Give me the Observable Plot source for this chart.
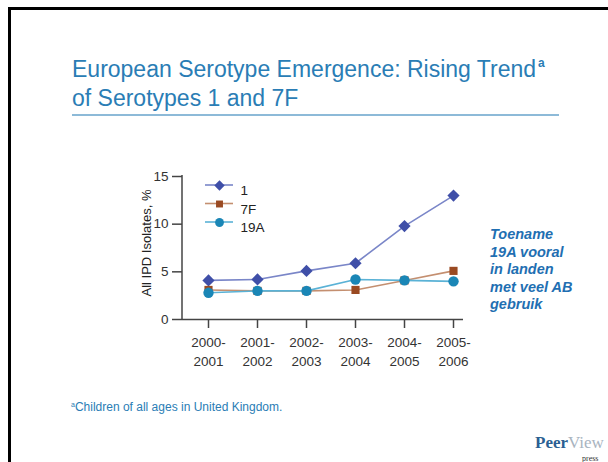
<!DOCTYPE html>
<html>
<head>
<meta charset="utf-8">
<script src="https://cdn.jsdelivr.net/npm/d3@7"></script>
<script src="https://cdn.jsdelivr.net/npm/@observablehq/plot@0.6"></script>
<style>
  html, body { margin: 0; padding: 0; background: #fff; }
  #page { position: relative; width: 608px; height: 462px; overflow: hidden; background: #fff; font-family: "Liberation Sans", Arial, sans-serif; }
  .abs { position: absolute; }
  #title { left: 72px; top: 49px; font-size: 23px; line-height: 29px; color: #2a7db5; white-space: nowrap; }
  #title sup { font-size: 12px; vertical-align: 10px; font-weight: bold; margin-left: 2px; }
  #rule { left: 72px; top: 114px; width: 487px; height: 2px; background: #8dbad8; }
  #note { left: 490px; top: 226px; font-size: 14.5px; line-height: 17.5px; font-weight: bold; font-style: italic; color: #1f6fb2; }
  #foot { left: 71px; top: 400px; font-size: 12px; color: #2a7db5; white-space: nowrap; }
  #foot sup { font-size: 7px; vertical-align: 4px; }
  #logo { left: 535px; top: 434px; font-family: "Liberation Serif", "DejaVu Serif", serif; font-size: 17px; line-height: 17px; white-space: nowrap; }
  #logo .p { color: #2b5f93; font-weight: bold; }
  #logo .v { color: #a9b4bf; }
  #press { left: 582px; top: 455px; font-family: "Liberation Serif", serif; font-size: 8px; line-height: 8px; color: #333; }
  #btop { left: 8px; top: 7px; width: 600px; height: 3px; background: #000; }
  #bleft { left: 8px; top: 7px; width: 3px; height: 455px; background: #000; }
  #chart { left: 0; top: 160px; }
</style>
</head>
<body>
<div id="page">
  <div id="btop" class="abs"></div>
  <div id="bleft" class="abs"></div>
  <div id="title" class="abs">European Serotype Emergence: Rising Trend<sup>a</sup><br>of Serotypes 1 and 7F</div>
  <div id="rule" class="abs"></div>
  <div id="chart" class="abs"></div>
  <div id="note" class="abs">Toename<br>19A vooral<br>in landen<br>met veel AB<br>gebruik</div>
  <div id="foot" class="abs"><sup>a</sup>Children of all ages in United Kingdom.</div>
  <div id="logo" class="abs"><span class="p">Peer</span><span class="v">View</span></div>
  <div id="press" class="abs">press</div>
</div>
<script>
const seasons = ["2000-2001", "2001-2002", "2002-2003", "2003-2004", "2004-2005", "2005-2006"];
const serotype1 = [4.1, 4.2, 5.1, 5.9, 9.8, 13.0];
const serotype7F = [3.1, 3.0, 3.0, 3.1, 4.1, 5.1];
const serotype19A = [2.8, 3.0, 3.0, 4.2, 4.1, 4.0];
const seriesNames = ["1", "7F", "19A"];
const yTicks = [0, 5, 10, 15];
const yLabel = "All IPD Isolates, %";

const seriesValues = [serotype1, serotype7F, serotype19A];
const symbols = ["diamond2", "square", "circle"];
const markerColors = ["#3f4fa8", "#9a4a22", "#1a86b6"];
const lineColors = ["#7a86c8", "#c48f70", "#5ab2d6"];
const markerR = [5.5, 4.6, 5.2];

const rows = [];
seriesNames.forEach((name, i) => {
  seasons.forEach((s, j) => rows.push({series: name, season: s, value: seriesValues[i][j]}));
});

const W = 608, H = 220;
const mL = 182, mR = 145, mT = 16, mB = 61;

const marks = [];
// y axis line
marks.push((index, scales, values, dims) => {
  const g = d3.create("svg:g").attr("stroke", "#444").attr("stroke-width", 1.5);
  g.append("line").attr("x1", dims.marginLeft).attr("x2", dims.marginLeft)
    .attr("y1", dims.marginTop - 1).attr("y2", dims.height - dims.marginBottom);
  return g.node();
});
marks.push(Plot.ruleY([0], {stroke: "#444", strokeWidth: 1.5}));
marks.push(Plot.axisY({ticks: yTicks, tickSize: 10, tickPadding: 4, stroke: "#444", strokeWidth: 1.5, fill: "#333", fontSize: 13.5, label: null}));
marks.push(Plot.axisX({tickSize: 9, tickPadding: 6, stroke: "#444", strokeWidth: 1.5, fill: "#333", fontSize: 13.5, lineHeight: 1.35, label: null,
  tickFormat: d => d.replace("-", "-\n")}));
// y label
marks.push(Plot.text([yLabel], {frameAnchor: "left", textAnchor: "middle", dx: -36, dy: -5, rotate: -90, text: d => d, fontSize: 13, fill: "#222"}));

seriesNames.forEach((name, i) => {
  const data = rows.filter(r => r.series === name);
  marks.push(Plot.line(data, {x: "season", y: "value", stroke: lineColors[i], strokeWidth: 1.6}));
});
seriesNames.forEach((name, i) => {
  const data = rows.filter(r => r.series === name);
  marks.push(Plot.dot(data, {x: "season", y: "value", symbol: () => symbols[i], r: markerR[i], fill: markerColors[i], stroke: "none"}));
});

// legend
seriesNames.forEach((name, i) => {
  const dy = 9 + i * 18.5;
  marks.push((index, scales, values, dims) => {
    const g = d3.create("svg:g");
    g.append("line").attr("x1", dims.marginLeft + 23).attr("x2", dims.marginLeft + 51)
      .attr("y1", dims.marginTop + dy).attr("y2", dims.marginTop + dy)
      .attr("stroke", lineColors[i]).attr("stroke-width", 1.6);
    return g.node();
  });
  marks.push(Plot.dot([name], {frameAnchor: "top-left", dx: 37, dy, symbol: () => symbols[i], r: markerR[i] * 0.85, fill: markerColors[i], stroke: "none"}));
  marks.push(Plot.text([name], {frameAnchor: "top-left", dx: 58, dy, text: d => d, textAnchor: "start", fontSize: 13.5, fill: "#222"}));
});

const chart = Plot.plot({
  width: W, height: H,
  marginLeft: mL, marginRight: mR, marginTop: mT, marginBottom: mB,
  style: {background: "transparent", fontFamily: "'Liberation Sans', Arial, sans-serif", fontSize: "13px", color: "#333", overflow: "visible"},
  x: {type: "point", domain: seasons, range: [206, 455], padding: 0},
  y: {domain: [0, 15]},
  symbol: {type: "identity"},
  marks
});
document.getElementById("chart").appendChild(chart);
</script>
</body>
</html>
